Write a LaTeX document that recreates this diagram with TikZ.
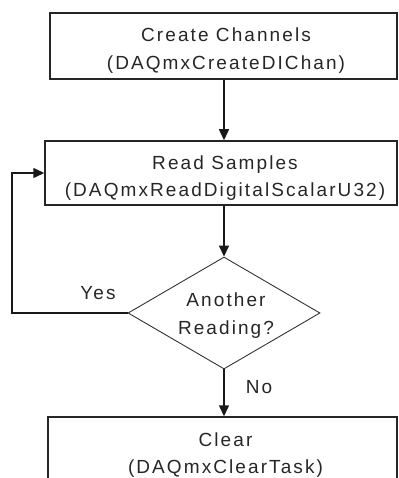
\documentclass[tikz,border=0pt]{standalone}
\usepackage{fontspec}
\setmainfont{Liberation Sans}[LetterSpace=11]
\usetikzlibrary{arrows.meta,shapes.geometric}
\begin{document}
\begin{tikzpicture}[x=1pt,y=-1pt,
  every node/.style={font=\fontsize{19}{27.5}\selectfont, text=black!85},
  box/.style={draw=black!85, line width=1.5pt, rectangle, inner sep=0pt},
  decision/.style={draw=black!80, line width=0.9pt, diamond, inner sep=0pt, aspect=1.714,
    minimum width=192pt, minimum height=112pt},
  txt/.style={inner sep=0pt, align=center},
  conn/.style={draw=black!90, line width=1.5pt, -{Triangle[length=11pt,width=10pt]}},
  lbl/.style={inner sep=0pt}]
\useasboundingbox (0,0) rectangle (398,478);
\clip (0,0) rectangle (398,478);
\node[box, minimum width=347pt, minimum height=66pt] (create) at (223.5,46) {};
\node[box, minimum width=352pt, minimum height=64pt] (read) at (221,173) {};
\node[decision] (dec) at (224,313) {};
\node[box, minimum width=349pt, minimum height=71pt] (clear) at (222.5,452.5) {};
\node[txt] (createtxt) at (226,50.5) {Create Channels\\(DAQmxCreateDIChan)};
\node[txt] (readtxt) at (225,178) {Read Samples\\(DAQmxReadDigitalScalarU32)};
\node[txt] (dectxt) at (226,315.5) {Another\\Reading?};
\node[txt] (cleartxt) at (225.5,455) {Clear\\(DAQmxClearTask)};
\coordinate (loop) at (12,313);
\node[lbl] (yes) at (98,293) {Yes};
\node[lbl] (no) at (259,387) {No};
\draw[conn] (dec.north |- create.south) -- (dec.north |- read.north);
\draw[conn] (dec.north |- read.south) -- (dec.north);
\draw[conn] (dec.south) -- (dec.south |- clear.north);
\draw[conn] (dec.west) -- (loop) |- (read.west);
\end{tikzpicture}
\end{document}
